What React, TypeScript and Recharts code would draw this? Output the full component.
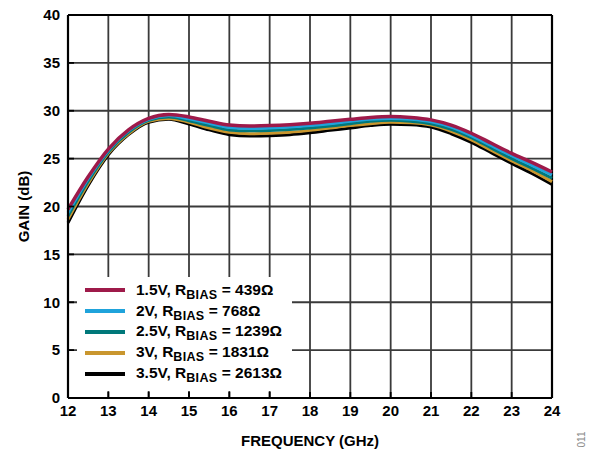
import React from 'react';
import { LineChart, Line, XAxis, YAxis, CartesianGrid, ReferenceLine } from 'recharts';

const FREQ = [12, 12.5, 13, 13.5, 14, 14.5, 15, 15.5, 16, 16.5, 17, 17.5, 18, 18.5, 19, 19.5, 20, 20.5, 21, 21.5, 22, 22.5, 23, 23.5, 24];
const GAIN_1V5 = [19.7, 23.1, 26.0, 28.0, 29.2, 29.6, 29.35, 28.9, 28.5, 28.4, 28.45, 28.55, 28.7, 28.9, 29.1, 29.3, 29.4, 29.3, 29.05, 28.5, 27.65, 26.6, 25.55, 24.6, 23.6];
const GAIN_2V = [19.35, 22.9, 25.85, 27.9, 29.1, 29.5, 29.15, 28.7, 28.25, 28.15, 28.2, 28.3, 28.45, 28.65, 28.9, 29.1, 29.2, 29.1, 28.85, 28.3, 27.4, 26.35, 25.3, 24.3, 23.3];
const GAIN_2V5 = [19.0, 22.65, 25.7, 27.75, 29.0, 29.35, 28.95, 28.45, 28.0, 27.9, 27.95, 28.05, 28.2, 28.4, 28.65, 28.9, 29.0, 28.9, 28.65, 28.05, 27.2, 26.1, 25.0, 24.0, 22.95];
const GAIN_3V = [18.65, 22.4, 25.55, 27.6, 28.9, 29.2, 28.8, 28.2, 27.75, 27.6, 27.65, 27.75, 27.95, 28.2, 28.45, 28.65, 28.8, 28.75, 28.5, 27.85, 26.95, 25.85, 24.75, 23.75, 22.6];
const GAIN_3V5 = [18.3, 22.2, 25.4, 27.5, 28.8, 29.1, 28.6, 28.0, 27.5, 27.35, 27.4, 27.5, 27.7, 27.95, 28.2, 28.45, 28.6, 28.55, 28.3, 27.6, 26.7, 25.6, 24.5, 23.45, 22.3];

const X_TICKS = [12, 13, 14, 15, 16, 17, 18, 19, 20, 21, 22, 23, 24];
const Y_TICKS = [0, 5, 10, 15, 20, 25, 30, 35, 40];

const SERIES = [
  { key: 's1', volt: '1.5V', rbias: '439Ω', color: '#9E1A4A', values: GAIN_1V5, width: 3.5 },
  { key: 's2', volt: '2V', rbias: '768Ω', color: '#1FA3DB', values: GAIN_2V, width: 3 },
  { key: 's3', volt: '2.5V', rbias: '1239Ω', color: '#00787A', values: GAIN_2V5, width: 3 },
  { key: 's4', volt: '3V', rbias: '1831Ω', color: '#C9962E', values: GAIN_3V, width: 3 },
  { key: 's5', volt: '3.5V', rbias: '2613Ω', color: '#000000', values: GAIN_3V5, width: 3 },
];

const data = FREQ.map((f, i) => {
  const row: any = { f };
  SERIES.forEach((s) => { row[s.key] = s.values[i]; });
  return row;
});

const FONT = '"Liberation Sans", Arial, sans-serif';

export default function App() {
  const tickStyle = { fontFamily: FONT, fontWeight: 700, fontSize: 15, fill: '#000' };
  return (
    <div style={{ position: 'absolute', left: 0, top: 0, width: 591, height: 453, background: '#fff', fontFamily: FONT }}>
      <LineChart width={591} height={453} data={data} margin={{ top: 15, right: 39, bottom: 0, left: 0 }}>
        <CartesianGrid stroke="#3a3a3a" strokeWidth={1.8} horizontalValues={Y_TICKS} verticalValues={X_TICKS} />
        <XAxis
          dataKey="f"
          type="number"
          domain={[12, 24]}
          ticks={X_TICKS}
          height={55}
          interval={0}
          tickSize={-6}
          tickMargin={13}
          tick={tickStyle}
          tickLine={{ stroke: '#000', strokeWidth: 1.8 }}
          axisLine={{ stroke: '#000', strokeWidth: 2.2 }}
          label={{ value: 'FREQUENCY (GHz)', position: 'insideBottom', offset: 7, style: { fontFamily: FONT, fontWeight: 700, fontSize: 15, fill: '#000' } }}
        />
        <YAxis
          domain={[0, 40]}
          ticks={Y_TICKS}
          width={68}
          interval={0}
          tickSize={-6}
          tickMargin={14}
          tick={tickStyle}
          tickLine={{ stroke: '#000', strokeWidth: 1.8 }}
          axisLine={{ stroke: '#000', strokeWidth: 2.2 }}
          label={{
            content: (props: any) => {
              const vb = props.viewBox || { x: 0, y: 15, height: 383 };
              const cx = vb.x + 23;
              const cy = vb.y + vb.height / 2;
              return (
                <text x={cx} y={cy} transform={`rotate(-90 ${cx} ${cy})`} textAnchor="middle" dominantBaseline="central" style={{ fontFamily: FONT, fontWeight: 700, fontSize: 15, fill: '#000' }}>
                  GAIN (dB)
                </text>
              );
            },
          }}
        />
        <ReferenceLine y={40} stroke="#000" strokeWidth={2.2} />
        <ReferenceLine x={24} stroke="#000" strokeWidth={2.2} />
        {[...SERIES].reverse().map((s) => (
          <Line key={s.key} dataKey={s.key} type="monotone" stroke={s.color} strokeWidth={s.width} dot={false} isAnimationActive={false} />
        ))}
      </LineChart>
      <div style={{ position: 'absolute', left: 77, top: 277, width: 215, height: 114, background: '#fff', paddingTop: 3, boxSizing: 'border-box' }}>
        {SERIES.map((s) => (
          <div key={s.key} style={{ display: 'flex', alignItems: 'center', height: 20.8 }}>
            <div style={{ width: 40, height: 4, background: s.color, marginLeft: 8, marginRight: 11 }} />
            <span style={{ fontFamily: FONT, fontWeight: 700, fontSize: 15.5, color: '#000', whiteSpace: 'nowrap', lineHeight: '15px' }}>
              {s.volt}, R<span style={{ fontSize: 12.5, position: 'relative', top: 4, letterSpacing: 0.3 }}>BIAS</span> = {s.rbias}
            </span>
          </div>
        ))}
      </div>
      <div style={{ position: 'absolute', left: 574, top: 434, fontFamily: FONT, fontSize: 10, color: '#888', transform: 'rotate(-90deg)', transformOrigin: 'center' }}>011</div>
    </div>
  );
}
